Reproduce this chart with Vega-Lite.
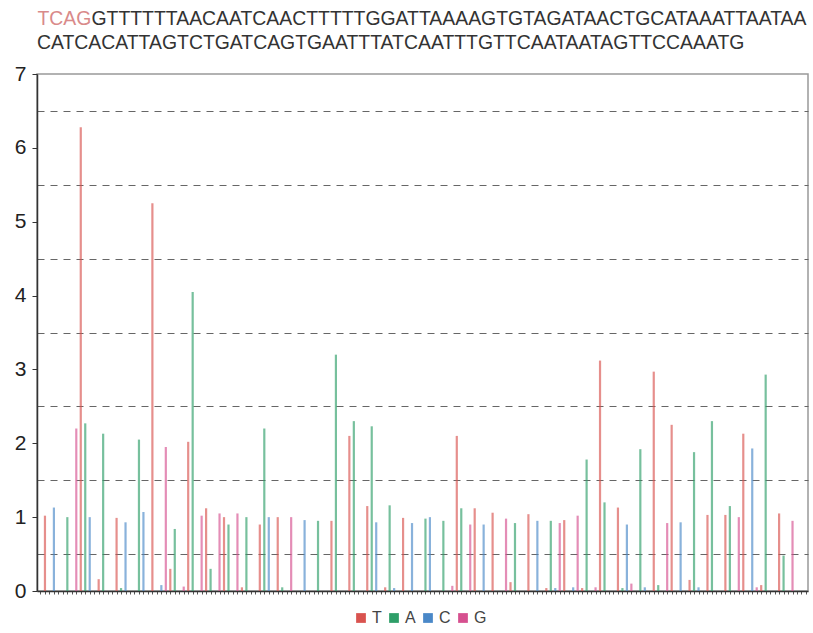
{
  "$schema": "https://vega.github.io/schema/vega-lite/v6.json",
  "width": 771,
  "height": 517,
  "autosize": {"type": "none"},
  "padding": {"left": 37, "top": 74, "right": 5, "bottom": 42},
  "background": "white",
  "title": {
    "text": "CATCACATTAGTCTGATCAGTGAATTTATCAATTTGTTCAATAATAGTTCCAAATG",
    "anchor": "start",
    "frame": "group",
    "orient": "top",
    "font": "Liberation Sans",
    "fontSize": 19.4,
    "fontWeight": "normal",
    "color": "#333333",
    "baseline": "alphabetic",
    "offset": 0,
    "dy": 60
  },
  "config": {
    "view": {"stroke": "#999999", "strokeWidth": 1.5},
    "axis": {"labelFont": "Liberation Sans", "titleFont": "Liberation Sans"},
    "legend": {"labelFont": "Liberation Sans"}
  },
  "data": {
    "values": [
      {"flow": 1, "base": "T", "value": 1.02}, {"flow": 2, "base": "A", "value": 0}, {"flow": 3, "base": "C", "value": 1.13}, {"flow": 4, "base": "G", "value": 0},
      {"flow": 5, "base": "T", "value": 0}, {"flow": 6, "base": "A", "value": 1.0}, {"flow": 7, "base": "C", "value": 0}, {"flow": 8, "base": "G", "value": 2.2},
      {"flow": 9, "base": "T", "value": 6.28}, {"flow": 10, "base": "A", "value": 2.27}, {"flow": 11, "base": "C", "value": 1.0}, {"flow": 12, "base": "G", "value": 0},
      {"flow": 13, "base": "T", "value": 0.16}, {"flow": 14, "base": "A", "value": 2.13}, {"flow": 15, "base": "C", "value": 0}, {"flow": 16, "base": "G", "value": 0},
      {"flow": 17, "base": "T", "value": 0.99}, {"flow": 18, "base": "A", "value": 0.04}, {"flow": 19, "base": "C", "value": 0.93}, {"flow": 20, "base": "G", "value": 0},
      {"flow": 21, "base": "T", "value": 0}, {"flow": 22, "base": "A", "value": 2.05}, {"flow": 23, "base": "C", "value": 1.07}, {"flow": 24, "base": "G", "value": 0},
      {"flow": 25, "base": "T", "value": 5.25}, {"flow": 26, "base": "A", "value": 0}, {"flow": 27, "base": "C", "value": 0.08}, {"flow": 28, "base": "G", "value": 1.95},
      {"flow": 29, "base": "T", "value": 0.3}, {"flow": 30, "base": "A", "value": 0.84}, {"flow": 31, "base": "C", "value": 0}, {"flow": 32, "base": "G", "value": 0.06},
      {"flow": 33, "base": "T", "value": 2.02}, {"flow": 34, "base": "A", "value": 4.05}, {"flow": 35, "base": "C", "value": 0}, {"flow": 36, "base": "G", "value": 1.02},
      {"flow": 37, "base": "T", "value": 1.12}, {"flow": 38, "base": "A", "value": 0.3}, {"flow": 39, "base": "C", "value": 0}, {"flow": 40, "base": "G", "value": 1.05},
      {"flow": 41, "base": "T", "value": 1.0}, {"flow": 42, "base": "A", "value": 0.9}, {"flow": 43, "base": "C", "value": 0}, {"flow": 44, "base": "G", "value": 1.05},
      {"flow": 45, "base": "T", "value": 0.05}, {"flow": 46, "base": "A", "value": 1.0}, {"flow": 47, "base": "C", "value": 0}, {"flow": 48, "base": "G", "value": 0},
      {"flow": 49, "base": "T", "value": 0.9}, {"flow": 50, "base": "A", "value": 2.2}, {"flow": 51, "base": "C", "value": 1.0}, {"flow": 52, "base": "G", "value": 0},
      {"flow": 53, "base": "T", "value": 1.0}, {"flow": 54, "base": "A", "value": 0.05}, {"flow": 55, "base": "C", "value": 0}, {"flow": 56, "base": "G", "value": 1.0},
      {"flow": 57, "base": "T", "value": 0}, {"flow": 58, "base": "A", "value": 0}, {"flow": 59, "base": "C", "value": 0.96}, {"flow": 60, "base": "G", "value": 0},
      {"flow": 61, "base": "T", "value": 0}, {"flow": 62, "base": "A", "value": 0.95}, {"flow": 63, "base": "C", "value": 0}, {"flow": 64, "base": "G", "value": 0},
      {"flow": 65, "base": "T", "value": 0.95}, {"flow": 66, "base": "A", "value": 3.2}, {"flow": 67, "base": "C", "value": 0}, {"flow": 68, "base": "G", "value": 0},
      {"flow": 69, "base": "T", "value": 2.1}, {"flow": 70, "base": "A", "value": 2.3}, {"flow": 71, "base": "C", "value": 0}, {"flow": 72, "base": "G", "value": 0},
      {"flow": 73, "base": "T", "value": 1.15}, {"flow": 74, "base": "A", "value": 2.23}, {"flow": 75, "base": "C", "value": 0.93}, {"flow": 76, "base": "G", "value": 0},
      {"flow": 77, "base": "T", "value": 0.05}, {"flow": 78, "base": "A", "value": 1.16}, {"flow": 79, "base": "C", "value": 0.04}, {"flow": 80, "base": "G", "value": 0},
      {"flow": 81, "base": "T", "value": 0.99}, {"flow": 82, "base": "A", "value": 0}, {"flow": 83, "base": "C", "value": 0.92}, {"flow": 84, "base": "G", "value": 0},
      {"flow": 85, "base": "T", "value": 0}, {"flow": 86, "base": "A", "value": 0.98}, {"flow": 87, "base": "C", "value": 1.0}, {"flow": 88, "base": "G", "value": 0},
      {"flow": 89, "base": "T", "value": 0}, {"flow": 90, "base": "A", "value": 0.95}, {"flow": 91, "base": "C", "value": 0}, {"flow": 92, "base": "G", "value": 0.07},
      {"flow": 93, "base": "T", "value": 2.1}, {"flow": 94, "base": "A", "value": 1.12}, {"flow": 95, "base": "C", "value": 0}, {"flow": 96, "base": "G", "value": 0.9},
      {"flow": 97, "base": "T", "value": 1.12}, {"flow": 98, "base": "A", "value": 0}, {"flow": 99, "base": "C", "value": 0.9}, {"flow": 100, "base": "G", "value": 0},
      {"flow": 101, "base": "T", "value": 1.06}, {"flow": 102, "base": "A", "value": 0}, {"flow": 103, "base": "C", "value": 0}, {"flow": 104, "base": "G", "value": 0.98},
      {"flow": 105, "base": "T", "value": 0.12}, {"flow": 106, "base": "A", "value": 0.92}, {"flow": 107, "base": "C", "value": 0}, {"flow": 108, "base": "G", "value": 0},
      {"flow": 109, "base": "T", "value": 1.04}, {"flow": 110, "base": "A", "value": 0}, {"flow": 111, "base": "C", "value": 0.95}, {"flow": 112, "base": "G", "value": 0},
      {"flow": 113, "base": "T", "value": 0.04}, {"flow": 114, "base": "A", "value": 0.95}, {"flow": 115, "base": "C", "value": 0.04}, {"flow": 116, "base": "G", "value": 0.92},
      {"flow": 117, "base": "T", "value": 0.96}, {"flow": 118, "base": "A", "value": 0}, {"flow": 119, "base": "C", "value": 0.05}, {"flow": 120, "base": "G", "value": 1.02},
      {"flow": 121, "base": "T", "value": 0.04}, {"flow": 122, "base": "A", "value": 1.78}, {"flow": 123, "base": "C", "value": 0}, {"flow": 124, "base": "G", "value": 0.05},
      {"flow": 125, "base": "T", "value": 3.12}, {"flow": 126, "base": "A", "value": 1.2}, {"flow": 127, "base": "C", "value": 0}, {"flow": 128, "base": "G", "value": 0},
      {"flow": 129, "base": "T", "value": 1.13}, {"flow": 130, "base": "A", "value": 0.04}, {"flow": 131, "base": "C", "value": 0.9}, {"flow": 132, "base": "G", "value": 0.1},
      {"flow": 133, "base": "T", "value": 0}, {"flow": 134, "base": "A", "value": 1.92}, {"flow": 135, "base": "C", "value": 0.05}, {"flow": 136, "base": "G", "value": 0},
      {"flow": 137, "base": "T", "value": 2.97}, {"flow": 138, "base": "A", "value": 0.08}, {"flow": 139, "base": "C", "value": 0}, {"flow": 140, "base": "G", "value": 0.92},
      {"flow": 141, "base": "T", "value": 2.25}, {"flow": 142, "base": "A", "value": 0}, {"flow": 143, "base": "C", "value": 0.93}, {"flow": 144, "base": "G", "value": 0},
      {"flow": 145, "base": "T", "value": 0.15}, {"flow": 146, "base": "A", "value": 1.88}, {"flow": 147, "base": "C", "value": 0.05}, {"flow": 148, "base": "G", "value": 0},
      {"flow": 149, "base": "T", "value": 1.03}, {"flow": 150, "base": "A", "value": 2.3}, {"flow": 151, "base": "C", "value": 0}, {"flow": 152, "base": "G", "value": 0},
      {"flow": 153, "base": "T", "value": 1.03}, {"flow": 154, "base": "A", "value": 1.15}, {"flow": 155, "base": "C", "value": 0}, {"flow": 156, "base": "G", "value": 1.0},
      {"flow": 157, "base": "T", "value": 2.13}, {"flow": 158, "base": "A", "value": 0}, {"flow": 159, "base": "C", "value": 1.93}, {"flow": 160, "base": "G", "value": 0.05},
      {"flow": 161, "base": "T", "value": 0.08}, {"flow": 162, "base": "A", "value": 2.93}, {"flow": 163, "base": "C", "value": 0}, {"flow": 164, "base": "G", "value": 0},
      {"flow": 165, "base": "T", "value": 1.05}, {"flow": 166, "base": "A", "value": 0.48}, {"flow": 167, "base": "C", "value": 0}, {"flow": 168, "base": "G", "value": 0.95}
    ]
  },
  "mark": {"type": "bar", "size": 2.2, "opacity": 0.65},
  "encoding": {
    "x": {
      "field": "flow",
      "type": "quantitative",
      "scale": {"domain": [0.34, 170.34], "nice": false, "zero": false},
      "axis": {
        "title": "GTTTTTTAACAATCAACTTTTTGGATTAAAAGTGTAGATAACTGCATAAATTAATAA",
        "titleX": 54,
        "titleY": -567,
        "titleAlign": "left",
        "titleBaseline": "alphabetic",
        "titleFontSize": 19.4,
        "titleFontWeight": "normal",
        "titleColor": "#333333",
        "labels": false,
        "tickCount": 170,
        "tickSize": 3,
        "tickColor": "#555555",
        "domainColor": "#333333",
        "domainWidth": 1.5,
        "grid": false
      }
    },
    "y": {
      "field": "value",
      "type": "quantitative",
      "scale": {"domain": [0, 7], "nice": false},
      "axis": {
        "values": [0, 0.5, 1, 1.5, 2, 2.5, 3, 3.5, 4, 4.5, 5, 5.5, 6, 6.5, 7],
        "labelExpr": "datum.value % 1 === 0 ? '' + datum.value : ''",
        "labelFontSize": 21,
        "labelColor": "#222222",
        "labelPadding": 6,
        "labelOverlap": false,
        "tickSize": 5,
        "tickColor": "#333333",
        "tickOpacity": {"condition": {"test": "datum.value % 1 === 0", "value": 1}, "value": 0},
        "grid": true,
        "gridColor": "#666666",
        "gridDash": [7, 6],
        "gridWidth": 1.2,
        "gridOpacity": {"condition": {"test": "datum.value % 1 !== 0", "value": 1}, "value": 0},
        "domainColor": "#333333",
        "domainWidth": 1.5,
        "title": "TCAG",
        "titleAngle": 0,
        "titleX": 0,
        "titleY": -50,
        "titleAlign": "left",
        "titleBaseline": "alphabetic",
        "titleFontSize": 19.4,
        "titleFontWeight": "normal",
        "titleColor": "#d98a8a"
      }
    },
    "color": {
      "field": "base",
      "type": "nominal",
      "scale": {"domain": ["T", "A", "C", "G"], "range": ["#d9534f", "#2e9e68", "#4a88c8", "#d6508f"]},
      "legend": {
        "orient": "none",
        "legendX": 316,
        "legendY": 536,
        "direction": "horizontal",
        "title": null,
        "symbolType": "square",
        "symbolSize": 95,
        "symbolOpacity": 1,
        "symbolStrokeWidth": 0,
        "labelFontSize": 16,
        "labelColor": "#444444",
        "labelOffset": 3,
        "columnPadding": 4,
        "padding": 0
      }
    }
  }
}
